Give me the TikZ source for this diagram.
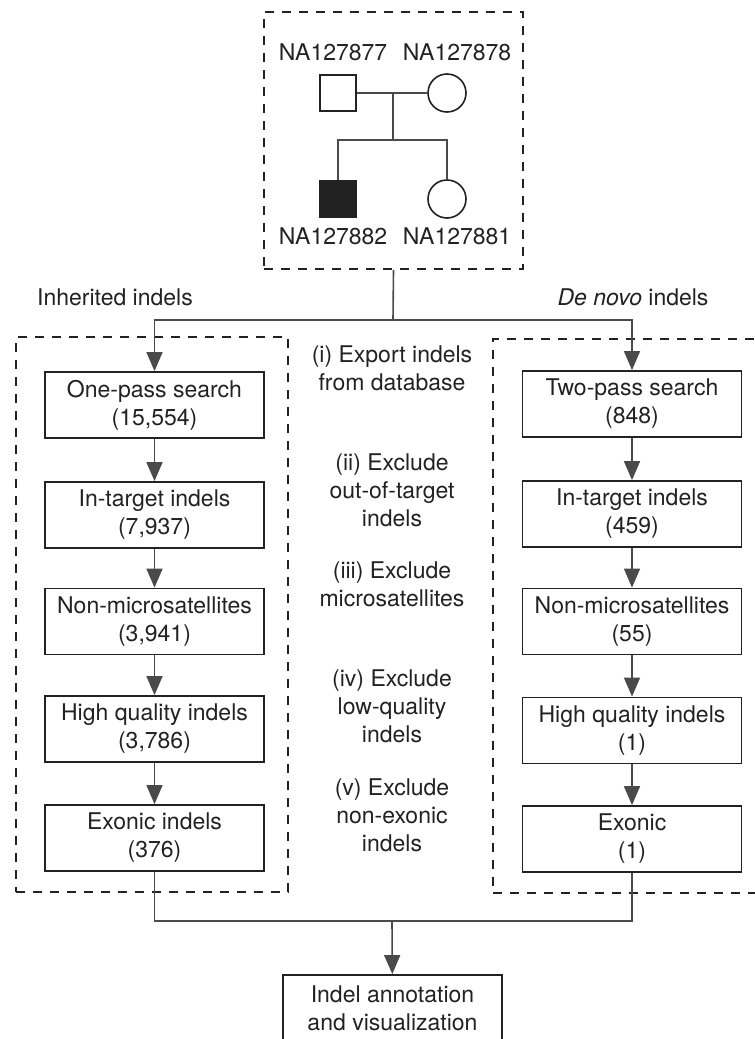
\documentclass[tikz,border=0pt]{standalone}
\usepackage{fontspec}
\setmainfont{TeX Gyre Heros}
\usetikzlibrary{arrows.meta}
\definecolor{lineg}{HTML}{4A4A4A}
\definecolor{textg}{HTML}{222222}
\tikzset{
  filt/.style={draw=textg, line width=1.8pt, rectangle, minimum width=219pt, minimum height=66pt, align=center, inner sep=0pt},
  dashbox/.style={draw=textg, line width=1.8pt, dash pattern=on 9pt off 8pt, rectangle, inner sep=0pt},
  arr/.style={-{Triangle[length=19pt,width=16pt]}},
}
\begin{document}
\begin{tikzpicture}[x=1pt, y=-1pt, every node/.style={font=\fontsize{23}{28}\selectfont, text=textg}]
\clip (0,0) rectangle (755,1039);
\fill[white] (0,0) rectangle (755,1039);

% pedigree
\node[dashbox, minimum width=259pt, minimum height=257pt] (ped) at (393.5,140.5) {};
\node[draw=textg, line width=1.6pt, minimum size=36pt, inner sep=0pt] (fa) at (338,93) {};
\node[draw=textg, line width=1.6pt, circle, minimum size=38pt, inner sep=0pt] (mo) at (447,93) {};
\node[draw=textg, fill=textg, line width=1.6pt, minimum size=36pt, inner sep=0pt] (son) at (338,199) {};
\node[draw=textg, line width=1.6pt, circle, minimum size=38pt, inner sep=0pt] (dau) at (447,199) {};
\node at (333,52) {NA127877};
\node at (457,52) {NA127878};
\node at (333,236) {NA127882};
\node at (457,236) {NA127881};
\coordinate (mate) at (393,93);
\coordinate (sib) at (393,140);

% filter boxes
\node[dashbox, minimum width=272pt, minimum height=555pt] (inh) at (152,614.5) {};
\node[dashbox, minimum width=287pt, minimum height=554pt] (dnv) at (636.5,616) {};

\node[filt] (l1) at (154.5,405) {One-pass search\\(15,554)};
\node[filt] (l2) at (154.5,515) {In-target indels\\(7,937)};
\node[filt] (l3) at (154.5,621.5) {Non-microsatellites\\(3,941)};
\node[filt] (l4) at (154.5,729) {High quality indels\\(3,786)};
\node[filt] (l5) at (154.5,838) {Exonic indels\\(376)};

\node[filt] (r1) at (632,404) {Two-pass search\\(848)};
\node[filt] (r2) at (632,514) {In-target indels\\(459)};
\node[filt] (r3) at (632,621.5) {Non-microsatellites\\(55)};
\node[filt] (r4) at (632,730.5) {High quality indels\\(1)};
\node[filt] (r5) at (632,839) {Exonic\\(1)};

\node[filt] (fin) at (392.5,1008) {Indel annotation\\and visualization};

\node (inhl) at (115,297) {Inherited indels};
\node (dnvl) at (633,297) {\textit{De novo} indels};

\node[align=center] (s1) at (392,368.5) {(i) Export indels\\from database};
\node[align=center] (s2) at (392,490) {(ii) Exclude\\out-of-target\\indels};
\node[align=center] (s3) at (392,584) {(iii) Exclude\\microsatellites};
\node[align=center] (s4) at (392,706.5) {(iv) Exclude\\low-quality\\indels};
\node[align=center] (s5) at (392,815) {(v) Exclude\\non-exonic\\indels};

\coordinate (split) at (393,320);
\coordinate (join) at (392,921);

\begin{scope}[draw=lineg, line width=1.6pt]
\draw (fa) -- (mo); %fa-mo
\draw (mate) -- (sib);
\draw (sib) -| (son.north);
\draw (sib) -| (dau.north);
\draw (ped.south) -- (split);
\draw (l5.south) |- (join);
\draw (r5.south) |- (join);
\end{scope}

\begin{scope}[draw=lineg, fill=lineg, line width=1.6pt, arr]
\draw (split) -| (l1.north);
\draw (split) -| (r1.north);
\draw (l1) -- (l2);
\draw (l2) -- (l3);
\draw (l3) -- (l4);
\draw (l4) -- (l5);
\draw (r1) -- (r2);
\draw (r2) -- (r3);
\draw (r3) -- (r4);
\draw (r4) -- (r5);
\draw (join) -- (fin);
\end{scope}

\end{tikzpicture}
\end{document}
